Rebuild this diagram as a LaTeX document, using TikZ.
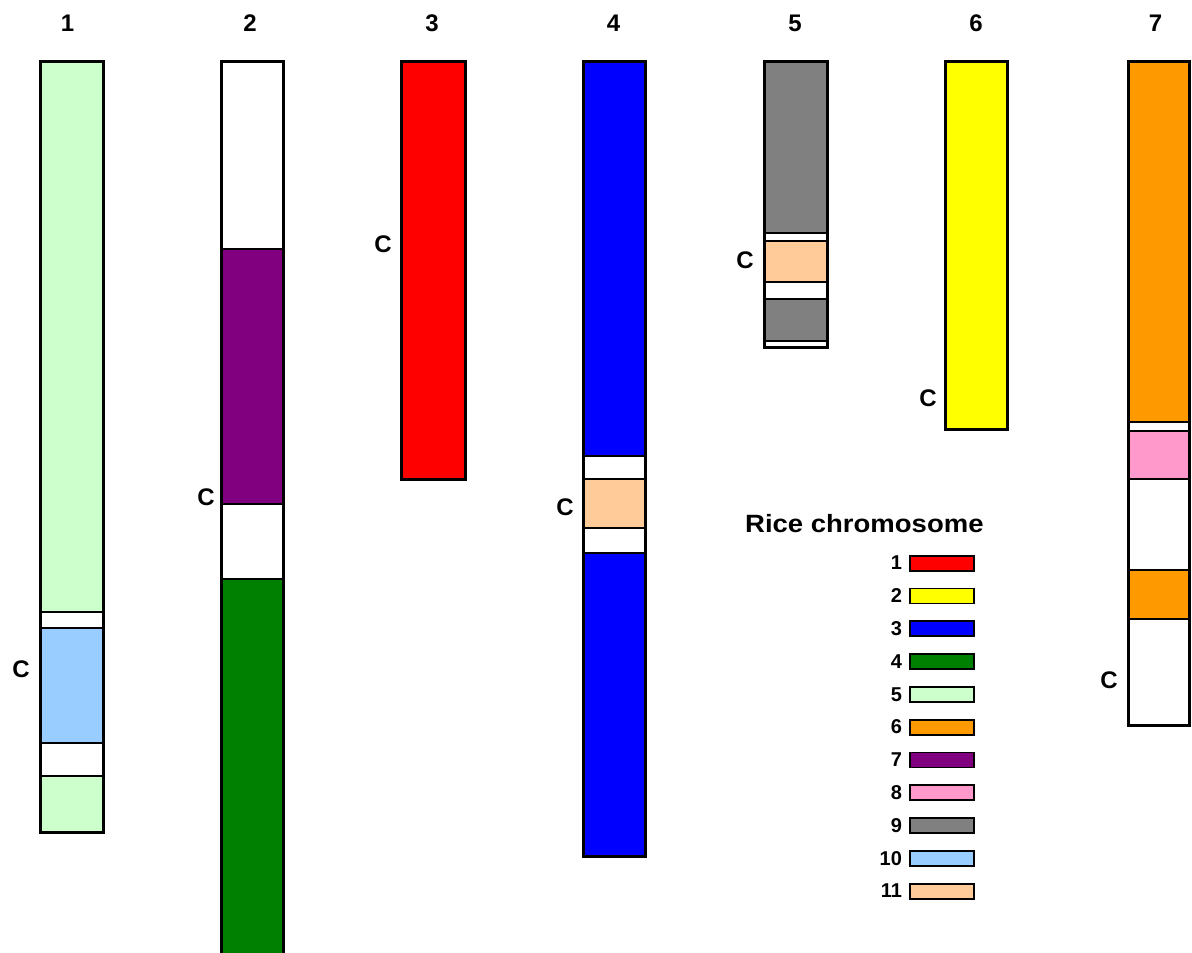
\documentclass[tikz,border=0pt]{standalone}
\usepackage{fontspec}
\setmainfont{Liberation Sans}
\definecolor{rc1}{HTML}{FF0000}
\definecolor{rc2}{HTML}{FFFF00}
\definecolor{rc3}{HTML}{0000FF}
\definecolor{rc4}{HTML}{008000}
\definecolor{rc5}{HTML}{CCFFCC}
\definecolor{rc6}{HTML}{FF9900}
\definecolor{rc7}{HTML}{800080}
\definecolor{rc8}{HTML}{FF99CC}
\definecolor{rc9}{HTML}{808080}
\definecolor{rc10}{HTML}{99CCFF}
\definecolor{rc11}{HTML}{FFCC99}
% one chromosome: #1 left x, #2 right x, #3 list of top/bottom/colour segments
\newcommand\chromsegs[3]{%
  \foreach \t/\b/\c in {#3} {\path[seg,fill=\c] (#1,\t) rectangle (#2,\b);}%
}
\begin{document}
\begin{tikzpicture}[x=1pt,y=-1pt,
  seg/.style={draw=black,line width=1.6pt},
  outline/.style={draw=black,line width=3pt},
  chnum/.style={font=\fontsize{24}{28}\selectfont\bfseries,inner sep=0pt},
  cent/.style={font=\fontsize{24}{28}\selectfont\bfseries,inner sep=0pt},
  legnum/.style={font=\fontsize{20}{24}\selectfont\bfseries,inner sep=0pt,anchor=east},
  swatch/.style={draw=black,line width=1.8pt,minimum width=64pt,minimum height=15pt,inner sep=0pt}]
\useasboundingbox (0,0) rectangle (1192,953);
\begin{scope}
\clip (0,0) rectangle (1192,953);

% chromosome 1
\chromsegs{40.5}{103}{61/612/rc5,612/628/white,628/743/rc10,743/776/white,776/832/rc5}
\draw[outline] (40.5,61) rectangle (103,832);
% chromosome 2 (runs past the lower edge)
\chromsegs{221.5}{283.5}{61/249/white,249/504/rc7,504/579/white,579/960/rc4}
\draw[outline] (221.5,960) -- (221.5,61) -- (283.5,61) -- (283.5,960);
% chromosome 3
\chromsegs{401.5}{465.5}{61/479/rc1}
\draw[outline] (401.5,61) rectangle (465.5,479);
% chromosome 4
\chromsegs{583.5}{645.5}{61/456/rc3,456/479/white,479/528/rc11,528/553/white,553/856/rc3}
\draw[outline] (583.5,61) rectangle (645.5,856);
% chromosome 5
\chromsegs{764.5}{827.5}{61/233/rc9,233/241/white,241/282/rc11,282/299/white,299/341/rc9,341/347/white}
\draw[outline] (764.5,61) rectangle (827.5,347);
% chromosome 6
\chromsegs{945.5}{1007.5}{61/429/rc2}
\draw[outline] (945.5,61) rectangle (1007.5,429);
% chromosome 7
\chromsegs{1128.5}{1189.5}{61/422/rc6,422/431/white,431/479/rc8,479/570/white,570/619/rc6,619/725/white}
\draw[outline] (1128.5,61) rectangle (1189.5,725);
\end{scope}

% chromosome numbers
\node[chnum] (n1) at (67.5,23.5) {1};
\node[chnum] (n2) at (250,23.5) {2};
\node[chnum] (n3) at (432,23.5) {3};
\node[chnum] (n4) at (613.5,23.5) {4};
\node[chnum] (n5) at (795,23.5) {5};
\node[chnum] (n6) at (976,23.5) {6};
\node[chnum] (n7) at (1155.5,23.5) {7};

% centromere marks
\node[cent] (cen1) at (21,669) {C};
\node[cent] (cen2) at (206,497) {C};
\node[cent] (cen3) at (383,244) {C};
\node[cent] (cen4) at (565,507) {C};
\node[cent] (cen5) at (745,260) {C};
\node[cent] (cen6) at (928,398) {C};
\node[cent] (cen7) at (1109,680) {C};

% legend
\node[font=\fontsize{25}{29}\selectfont\bfseries,inner sep=0pt,anchor=base west] (title) at (745,532) {\scalebox{1.1}[1]{Rice chromosome}};
\foreach \k/\c in {1/rc1,2/rc2,3/rc3,4/rc4,5/rc5,6/rc6,7/rc7,8/rc8,9/rc9,10/rc10,11/rc11} {
  \node[swatch,fill=\c] (sw\k) at (942,{628.7+(\k-3)*32.8}) {};
  \node[legnum] (ln\k) at ([xshift=-7pt]sw\k.west) {\k};
}
\end{tikzpicture}
\end{document}
